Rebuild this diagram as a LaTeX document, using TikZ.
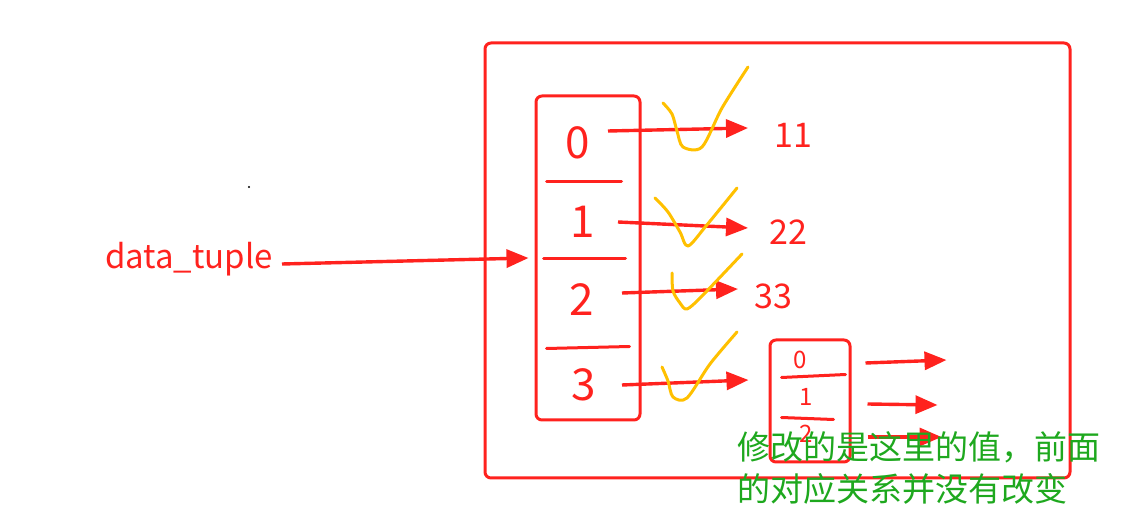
\documentclass[tikz,border=0pt]{standalone}
\usepackage{fontspec}
\setmainfont{Noto Sans CJK SC}
\usetikzlibrary{arrows.meta,calc}
\definecolor{inkred}{RGB}{255,34,30}
\definecolor{inkyellow}{RGB}{255,192,0}
\definecolor{inkgreen}{RGB}{30,168,30}

\begin{document}
\begin{tikzpicture}[x=0.5pt,y=-0.5pt,
  frame/.style={draw=inkred,line width=1.5pt,rounded corners=3pt,inner sep=0pt},
  rule/.style={draw=inkred,line width=1.5pt,line cap=round},
  digit/.style={text=inkred,inner sep=0pt,font=\fontsize{22}{22}\selectfont},
  smalldigit/.style={text=inkred,inner sep=0pt,font=\fontsize{12}{12}\selectfont},
  val/.style={text=inkred,inner sep=0pt,font=\fontsize{17}{17}\selectfont},
  redarrow/.style={draw=inkred,line width=1.7pt,-{Triangle[length=11pt,width=9pt]}},
  tick/.style={draw=inkyellow,line width=1.5pt,line cap=round,line join=round},
  note/.style={text=inkgreen,inner sep=0pt,align=left,font=\fontsize{16.5}{21}\selectfont}]
\useasboundingbox (0,0) rectangle (1131,518);

% boxes
\node[frame,minimum width=292.5pt,minimum height=217.5pt] (outer) at (777.5,260.5) {};
\node[frame,minimum width=52pt,minimum height=162pt] (tuple) at (588,258) {};
\node[frame,minimum width=40pt,minimum height=61pt] (inner) at (810,401) {};

% dividers of the tuple
\draw[rule] ($(tuple.north west)+(12,87)$) -- ($(tuple.north west)+(87,87)$);
\draw[rule] ($(tuple.north west)+(9,164)$) -- ($(tuple.north west)+(91,164)$);
\draw[rule] ($(tuple.north west)+(12,254)$) -- ($(tuple.north west)+(95,252)$);
\draw[rule] ($(inner.north west)+(13,39)$) -- ($(inner.north west)+(77,36)$);
\draw[rule] ($(inner.north west)+(13,79)$) -- ($(inner.north west)+(65,81)$);

% indices
\node[digit] (k0) at (578,143) {0};
\node[digit] (k1) at (583,222) {1};
\node[digit] (k2) at (582,300) {2};
\node[digit] (k3) at (584,385) {3};
\node[smalldigit] (s0) at (800,360) {0};
\node[smalldigit] (s1) at (806,397) {1};
\node[smalldigit] (s2) at (806,434) {2};

% values
\node[val] (v0) at (793,135) {11};
\node[val] (v1) at (788,232) {22};
\node[val] (v2) at (773,296) {33};
\node[text=inkred,inner sep=0pt,font=\fontsize{16.5}{16.5}\selectfont] (dt) at (189,259) {data\_tuple};
\fill (249,187) circle (0.6pt);

% arrows
\draw[redarrow] ($(dt)+(93,5)$) -- ($(tuple.west)+(-6,0)$);
\draw[redarrow] ($(k0)+(30,-12)$) -- ($(v0)+(-45,-7)$);
\draw[redarrow] ($(k1)+(35,0)$) -- ($(v1)+(-40,-4)$);
\draw[redarrow] ($(k2)+(40,-7)$) -- ($(v2)+(-35,-7)$);
\draw[redarrow] ($(k3)+(38,0)$) -- ($(inner.west)+(-20,-21)$);
\draw[redarrow] ($(inner.east)+(14,-38)$) -- ($(inner.east)+(95,-41)$);
\draw[redarrow] ($(inner.east)+(16,3)$) -- ($(inner.east)+(86,4)$);
\draw[redarrow] ($(inner.east)+(16,36)$) -- ($(inner.east)+(90,36)$);

% check marks
\draw[tick] plot[smooth,tension=0.5] coordinates {(663,103) (672,114) (677,131) (683,147) (702,147) (722,108) (748,67)};
\draw[tick] plot[smooth,tension=0.5] coordinates {(655,198) (668,212) (680,232) (688,246) (706,226) (737,188)};
\draw[tick] plot[smooth,tension=0.5] coordinates {(672,273) (673,291) (680,303) (687,309) (702,296) (742,254)};
\draw[tick] plot[smooth,tension=0.5] coordinates {(662,367) (668,381) (673,397) (687,398) (710,364) (737,332)};

% remark
\node[note] (remark) at (919,468) {修改的是这里的值，前面\\的对应关系并没有改变};
\end{tikzpicture}
\end{document}
